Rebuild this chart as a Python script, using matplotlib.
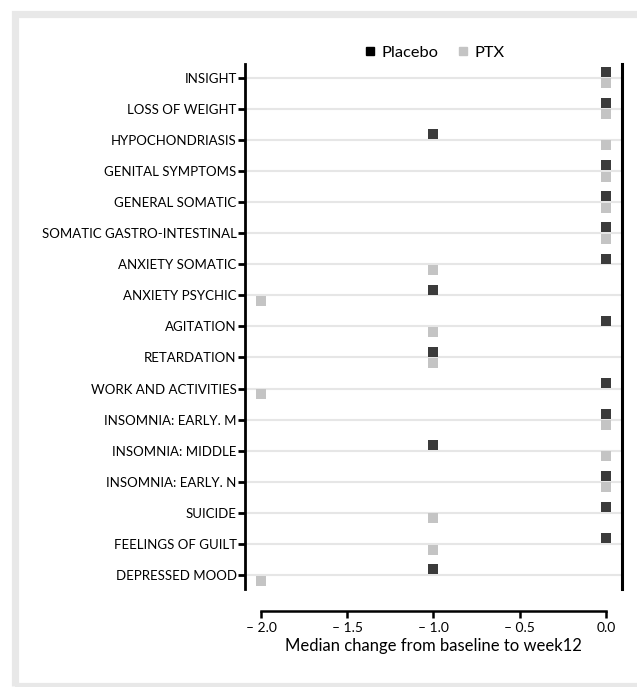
import matplotlib
matplotlib.use("Agg")
from matplotlib import pyplot as plt
from matplotlib.patches import Rectangle
from matplotlib.lines import Line2D
import numpy as np

plt.rcParams['font.family'] = ['Lato', 'DejaVu Sans']

# HAM-D items, top to bottom
items = ["INSIGHT", "LOSS OF WEIGHT", "HYPOCHONDRIASIS", "GENITAL SYMPTOMS",
         "GENERAL SOMATIC", "SOMATIC GASTRO-INTESTINAL", "ANXIETY SOMATIC",
         "ANXIETY PSYCHIC", "AGITATION", "RETARDATION", "WORK AND ACTIVITIES",
         "INSOMNIA: EARLY. M", "INSOMNIA: MIDDLE", "INSOMNIA: EARLY. N",
         "SUICIDE", "FEELINGS OF GUILT", "DEPRESSED MOOD"]
placebo = [0, 0, -1, 0, 0, 0, 0, -1, 0, -1, 0, 0, -1, 0, 0, 0, -1]
ptx = [0, 0, 0, 0, 0, 0, -1, -2, -1, -1, -2, 0, 0, 0, -1, -1, -2]
xticks = [-2.0, -1.5, -1.0, -0.5, 0.0]

W, H = 637, 687
fig = plt.figure(figsize=(W / 100, H / 100), dpi=100)

# grey frame round the panel
fig.patches.append(Rectangle((14.5 / W, 1 - 685.5 / H), 626 / W, 671.5 / H,
                             transform=fig.transFigure, fill=False,
                             edgecolor='#e8e8e8', linewidth=5.2))

ax = fig.add_axes([245 / W, 1 - 589 / H, (622 - 245) / W, (589 - 64) / H])

y = np.arange(len(items))
off = 0.18
for yy in y:
    ax.axhline(yy, color='#e6e6e6', lw=1.5, zorder=0)

ax.scatter(placebo, y - off, marker='s', s=44, color='#3b3b3b', lw=0, zorder=3)
ax.scatter(ptx, y + off, marker='s', s=44, color='#c4c4c4', lw=0, zorder=3)

ax.set_xlim(-2.093, 0.093)
ax.set_ylim(16.45, -0.44)
ax.set_yticks(y)
ax.set_yticklabels(items, fontsize=9.5)
ax.set_xticks(xticks)
ax.set_xticklabels(['\u2013 %.1f' % abs(t) if t < 0 else '%.1f' % t for t in xticks], fontsize=13)

ax.spines['top'].set_visible(False)
ax.spines['left'].set_linewidth(2)
ax.spines['right'].set_linewidth(2.2)
ax.spines['bottom'].set_position(('outward', 16))
ax.spines['bottom'].set_bounds(-2, 0)
ax.spines['bottom'].set_linewidth(1.8)
ax.tick_params(axis='y', length=5, width=2, pad=1)
ax.tick_params(axis='x', length=5, width=1.8, pad=3)
ax.set_xlabel('Median change from baseline to week12', fontsize=12, labelpad=3)

handles = [Line2D([], [], ls='none', marker='s', ms=6, color='black', label='Placebo'),
           Line2D([], [], ls='none', marker='s', ms=6, color='#c4c4c4', label='PTX')]
ax.legend(handles=handles, loc='lower center', bbox_to_anchor=(0.50, 0.995), ncol=2,
          frameon=False, fontsize=11.8, handletextpad=0.2, handlelength=1.0,
          columnspacing=1.0, borderaxespad=0)

fig.savefig('out.png', dpi=100)
